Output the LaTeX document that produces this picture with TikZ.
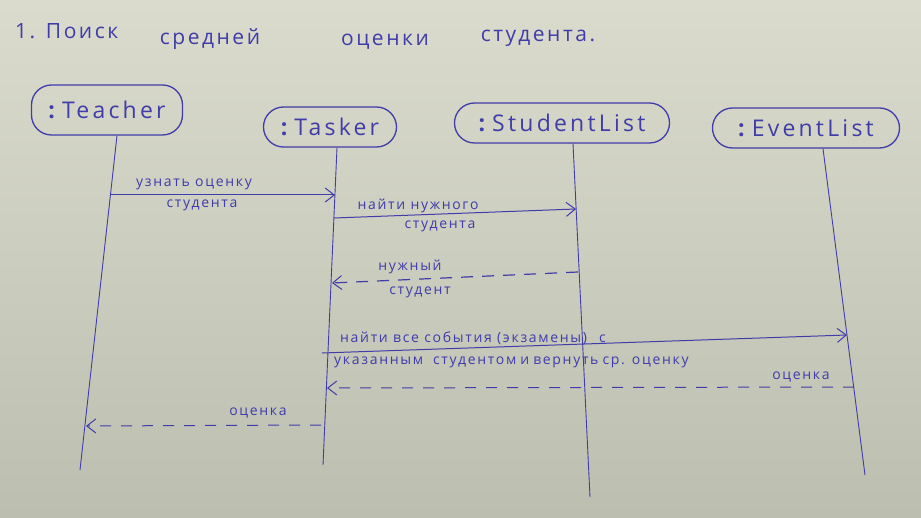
\documentclass[tikz,border=0pt]{standalone}
\usepackage{fontspec}
\setmainfont{Open Sans}
\newfontfamily\handfont[LetterSpace=12]{Open Sans}
\newfontfamily\namefont[LetterSpace=14]{Open Sans}
\usetikzlibrary{arrows.meta}
\definecolor{ink}{RGB}{64,60,170}
\definecolor{papertop}{RGB}{218,219,204}
\definecolor{paperbot}{RGB}{188,191,176}
\begin{document}
\begin{tikzpicture}[x=1pt,y=-1pt,
  actor/.style={draw=ink, line width=1.3pt, rounded corners=20pt, text=ink,
    font=\namefont\fontsize{23}{26}\selectfont, inner sep=0pt},
  life/.style={draw=ink, line width=0.9pt},
  msg/.style={draw=ink, line width=1pt, -{Straight Barb[length=9pt,width=14pt,line width=1pt]}},
  reply/.style={msg, dash pattern=on 11pt off 10pt},
  replythick/.style={msg, line width=1.2pt, dash pattern=on 12pt off 9pt},
  lbl/.style={text=ink, font=\handfont\fontsize{14}{16}\selectfont, inner sep=0pt},
  ttl/.style={text=ink, font=\handfont\fontsize{21}{24}\selectfont, inner sep=0pt}]
% sheet of paper
\shade[top color=papertop, bottom color=paperbot] (0,0) rectangle (921,518);
\useasboundingbox (0,0) rectangle (921,518);

% heading
\node[ttl, anchor=west] (t1) at (15,31) {1. Поиск};
\node[ttl] (t2) at (210,39) {средней};
\node[ttl] (t3) at (385,42) {оценки};
\node[ttl] (t4) at (538,38) {студента.};

% participants
\node[actor, minimum width=151pt, minimum height=50pt] (teacher) at (107,110) {\textbf{:}\,Teacher};
\node[actor, minimum width=133pt, minimum height=40pt] (tasker) at (330,127) {\textbf{:}\,Tasker};
\node[actor, minimum width=215pt, minimum height=40pt] (students) at (562,123) {\textbf{:}\,StudentList};
\node[actor, minimum width=187pt, minimum height=40pt] (events) at (806,128) {\textbf{:}\,EventList};

% lifelines
\coordinate (teacherEnd) at (80,470);
\coordinate (taskerEnd) at (323,465);
\coordinate (studentsEnd) at (590,497);
\coordinate (eventsEnd) at (865,475);
\draw[life] ([xshift=10pt]teacher.south) -- (teacherEnd);
\draw[life] ([xshift=7pt]tasker.south) -- (taskerEnd);
\draw[life] ([xshift=11pt]students.south) -- (studentsEnd);
\draw[life] ([xshift=17pt]events.south) -- (eventsEnd);

% message end points on the lifelines
\coordinate (m1a) at (110.5,195);
\coordinate (m1b) at (335,195);
\coordinate (m2a) at (334,218);
\coordinate (m2b) at (576,209);
\coordinate (m3a) at (578,272);
\coordinate (m3b) at (332,283);
\coordinate (m4a) at (322,353);
\coordinate (m4b) at (847,335);
\coordinate (m5a) at (854,387);
\coordinate (m5b) at (327,388);
\coordinate (m6a) at (321,425);
\coordinate (m6b) at (86,426);

% messages
\draw[msg] (m1a) -- (m1b);
\node[lbl] (l1a) at (194,184) {узнать оценку};
\node[lbl] (l1b) at (202,205) {студента};

\draw[msg] (m2a) -- (m2b);
\node[lbl] (l2a) at (418,206) {найти нужного};
\node[lbl] (l2b) at (440,226) {студента};

\draw[replythick] (m3a) -- (m3b);
\node[lbl] (l3a) at (410,267) {нужный};
\node[lbl] (l3b) at (420,292) {студент};

\draw[msg] (m4a) -- (m4b);
\node[lbl, anchor=west] (l4a) at (340,338) {найти все события (экзамены)\hspace{12pt}с};
\node[lbl, anchor=west] (l4b) at (334,362) {указанным\hspace{10pt}студентом\hspace{4pt}и\hspace{4pt}вернуть\hspace{4pt}ср. оценку};

\draw[reply] (m5a) -- (m5b);
\node[lbl] (l5) at (801,377) {оценка};

\draw[reply] (m6a) -- (m6b);
\node[lbl] (l6) at (258,413) {оценка};
\end{tikzpicture}
\end{document}
